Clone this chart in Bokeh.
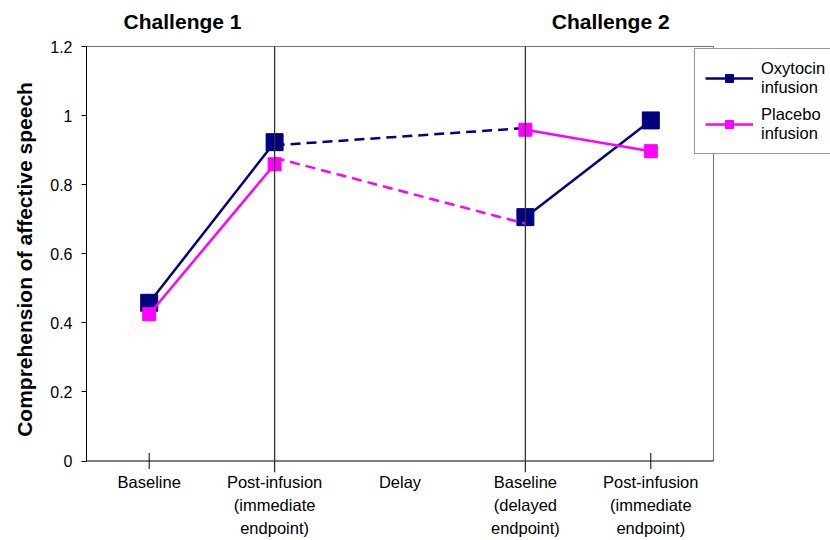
from bokeh.plotting import figure
from bokeh.models import (Range1d, FixedTicker, LinearAxis, Span,
                          Legend, LegendItem)
from bokeh.embed import file_html
from bokeh.resources import INLINE

# ---------------- data ----------------
categories = ["Baseline", "Post-infusion\n(immediate\nendpoint)", "Delay",
              "Baseline\n(delayed\nendpoint)", "Post-infusion\n(immediate\nendpoint)"]
challenge1_pos = [0, 1]
challenge2_pos = [3, 4]
delay_pos = [1, 3]
tick_pos = [0, 4]

oxytocin_c1 = [0.458, 0.923]
oxytocin_c2 = [0.706, 0.986]
placebo_c1 = [0.425, 0.859]
placebo_c2 = [0.959, 0.897]
oxytocin_delay = [0.914, 0.964]
placebo_delay = [0.878, 0.687]

y_ticks = [0, 0.2, 0.4, 0.6, 0.8, 1.0, 1.2]
y_tick_labels = ["0", "0.2", "0.4", "0.6", "0.8", "1", "1.2"]

group_titles = ["Challenge 1", "Challenge 2"]
group_title_x = [0.266, 3.68]

series_names = ["Oxytocin\ninfusion", "Placebo\ninfusion"]
NAVY = "#000080"
MAGENTA = "#FF00FF"
FONT = "Liberation Sans"

# ---------------- geometry ----------------
W, H = 830, 540
BORDER_L, BORDER_T, BORDER_B = 86, 46, 68
FRAME_H = H - BORDER_T - BORDER_B
Y_TOP = 1.2
PX_PER_UNIT_Y = 414.5 / 1.2
Y_BOTTOM = -(FRAME_H - 414.5) / PX_PER_UNIT_Y
TICK_HALF = 8.0 / PX_PER_UNIT_Y
X_START, X_END = -0.5, len(categories) - 0.5          # plot-area extent
PX_PER_UNIT_X = 627.0 / (X_END - X_START)
FRAME_W = W - BORDER_L
X_VIEW_END = X_START + FRAME_W / PX_PER_UNIT_X          # room for the legend

p = figure(width=W, height=H, output_backend="svg", toolbar_location=None,
           x_range=Range1d(X_START, X_VIEW_END), y_range=Range1d(Y_BOTTOM, Y_TOP),
           min_border_left=BORDER_L, min_border_right=0, min_border_top=BORDER_T,
           min_border_bottom=BORDER_B)
p.outline_line_color = None
p.xgrid.visible = False
p.ygrid.visible = False
p.background_fill_color = "white"
p.border_fill_color = "white"

# y axis
ya = p.yaxis[0]
ya.bounds = (0, Y_TOP)
ya.ticker = FixedTicker(ticks=y_ticks)
ya.major_label_overrides = {t: l for t, l in zip(y_ticks, y_tick_labels)}
ya.minor_tick_line_color = None
ya.major_tick_in = 0
ya.major_tick_out = 5
ya.major_label_standoff = 9
ya.major_label_text_font = FONT
ya.major_label_text_font_size = "16px"
ya.major_label_text_color = "black"
ya.axis_line_color = "black"
ya.major_tick_line_color = "black"
ya.axis_label = "Comprehension of affective speech"
ya.axis_label_text_font = FONT
ya.axis_label_text_font_size = "21px"
ya.axis_label_text_font_style = "bold"
ya.axis_label_text_color = "black"
ya.axis_label_standoff = 11

# x axis (labels only)
xa = p.xaxis[0]
xa.ticker = FixedTicker(ticks=list(range(len(categories))))
xa.major_label_overrides = {i: c for i, c in enumerate(categories)}
xa.axis_line_color = None
xa.major_tick_line_color = None
xa.minor_tick_line_color = None
xa.major_tick_in = 0
xa.major_tick_out = 0
xa.major_label_standoff = 0
xa.major_label_text_font = FONT
xa.major_label_text_font_size = "16.5px"
xa.major_label_text_line_height = 1.3
xa.major_label_text_color = "black"

# top frame border carrying the group titles
top_ax = LinearAxis(ticker=FixedTicker(ticks=group_title_x), bounds=(X_START, X_END),
                    major_label_overrides={x: t for x, t in zip(group_title_x, group_titles)},
                    axis_line_color="#707070", major_tick_line_color=None,
                    minor_tick_line_color=None, major_tick_in=0, major_tick_out=0,
                    major_label_standoff=14, major_label_text_font=FONT,
                    major_label_text_font_size="21px",
                    major_label_text_font_style="bold",
                    major_label_text_color="black")
p.add_layout(top_ax, "above")

# right frame border and baseline at y = 0 with its crossing ticks
p.segment(x0=[X_END], y0=[0], x1=[X_END], y1=[Y_TOP], line_color="#707070", line_width=1)
p.segment(x0=[X_START], y0=[0], x1=[X_END], y1=[0], line_color="black", line_width=1)
p.segment(x0=tick_pos, y0=[-TICK_HALF] * len(tick_pos), x1=tick_pos,
          y1=[TICK_HALF] * len(tick_pos), line_color="black", line_width=1)

# data
ox1 = p.line(challenge1_pos, oxytocin_c1, line_color=NAVY, line_width=2.5)
p.line(challenge2_pos, oxytocin_c2, line_color=NAVY, line_width=2.5)
p.line(delay_pos, oxytocin_delay, line_color=NAVY, line_width=2.5, line_dash="10 6")
oxm = p.scatter(challenge1_pos + challenge2_pos, oxytocin_c1 + oxytocin_c2,
                marker="square", size=17, fill_color=NAVY, line_color=NAVY)

pl1 = p.line(challenge1_pos, placebo_c1, line_color=MAGENTA, line_width=2.5)
p.line(challenge2_pos, placebo_c2, line_color=MAGENTA, line_width=2.5)
p.line(delay_pos, placebo_delay, line_color=MAGENTA, line_width=2.5, line_dash="10 6")
plm = p.scatter(challenge1_pos + challenge2_pos, placebo_c1 + placebo_c2,
                marker="square", size=13, fill_color=MAGENTA, line_color=MAGENTA)

# vertical separators
for xp in delay_pos:
    p.add_layout(Span(location=xp, dimension="height", line_color="#303030",
                      line_width=1.3))

legend = Legend(items=[LegendItem(label=series_names[0], renderers=[ox1, oxm]),
                       LegendItem(label=series_names[1], renderers=[pl1, plm])],
                location=(608, 318), orientation="vertical",
                label_text_font=FONT, label_text_font_size="16.5px",
                label_text_color="black",
                label_text_line_height=1.2, glyph_width=48, glyph_height=20,
                label_standoff=8, padding=10, spacing=8, margin=0,
                border_line_color="#333333", border_line_width=1,
                background_fill_color="white", background_fill_alpha=1.0)
p.add_layout(legend)

open("out.html", "w").write(file_html(p, INLINE))
